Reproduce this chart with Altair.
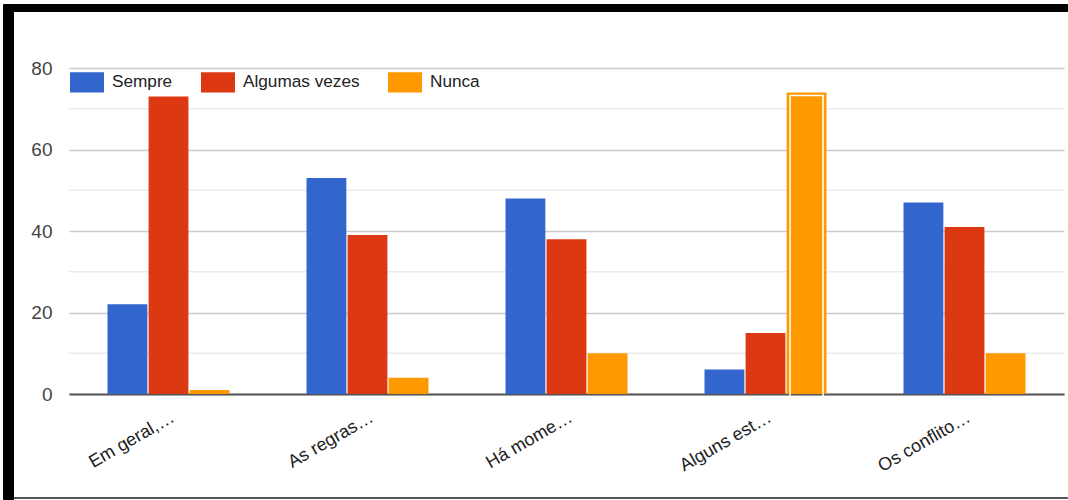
import altair as alt
import pandas as pd

# Survey answers per statement (counts)
categories = ["Em geral,…", "As regras…", "Há mome…", "Alguns est…", "Os conflito…"]
series = ["Sempre", "Algumas vezes", "Nunca"]
colors = ["#3366cc", "#dc3912", "#ff9900"]
sempre = [22, 53, 48, 6, 47]
algumas = [73, 39, 38, 15, 41]
nunca = [1, 4, 10, 74, 10]
y_ticks = [0, 20, 40, 60, 80]
minor_ticks = [10, 30, 50, 70]
highlighted = ("Alguns est…", "Nunca")

rows = []
for i, cat in enumerate(categories):
    for name, vals in zip(series, [sempre, algumas, nunca]):
        rows.append({"categoria": cat, "resposta": name, "valor": vals[i]})
df = pd.DataFrame(rows)

W, H = 995, 326
PAD_L, PAD_T = 69, 68

x_enc = alt.X(
    "categoria:N",
    sort=categories,
    scale=alt.Scale(paddingInner=0.387, paddingOuter=0.1935),
    axis=alt.Axis(
        title=None,
        labelAngle=-30,
        labelAlign="right",
        labelBaseline="top",
        labelPadding=14,
        labelFontSize=18,
        labelColor="#222222",
        labelFont="Liberation Sans",
        labelLimit=300,
        ticks=False,
        domainColor="#555555",
        domainWidth=2,
        grid=False,
    ),
)
xoff_enc = alt.XOffset("resposta:N", sort=series, scale=alt.Scale(paddingInner=0.03, paddingOuter=0))
y_scale = alt.Scale(domain=[0, 80], nice=False)

bars = alt.Chart(df).mark_bar().encode(
    x=x_enc,
    xOffset=xoff_enc,
    y=alt.Y(
        "valor:Q",
        scale=y_scale,
        axis=alt.Axis(
            title=None,
            values=y_ticks,
            labelFontSize=19,
            labelColor="#444444",
            labelFont="Liberation Sans",
            labelPadding=17,
            ticks=False,
            domain=False,
            gridColor="#cccccc",
            gridWidth=1.5,
        ),
    ),
    color=alt.Color(
        "resposta:N",
        sort=series,
        scale=alt.Scale(domain=series, range=colors),
        legend=alt.Legend(
            title=None,
            orient="none",
            direction="horizontal",
            legendX=1,
            legendY=-3,
            padding=0,
            symbolType="M-1,-0.6H1V0.6H-1Z",
            symbolSize=1156,
            symbolStrokeWidth=0,
            symbolOpacity=1,
            labelFontSize=17.2,
            labelFont="Liberation Sans",
            labelColor="#222222",
            labelOffset=8,
            columnPadding=28,
        ),
    ),
)

# Outline of the focused bar
focus = (
    alt.Chart(df)
    .transform_filter(
        (alt.datum.categoria == highlighted[0]) & (alt.datum.resposta == highlighted[1])
    )
    .mark_bar(filled=False, stroke="#ffffff", strokeWidth=1.5, size=33, yOffset=3, y2Offset=-3)
    .encode(x=x_enc, xOffset=xoff_enc, y=alt.Y("valor:Q", scale=y_scale))
)

minor = (
    alt.Chart(pd.DataFrame({"v": minor_ticks}))
    .mark_rule(color="#ebebeb", strokeWidth=1.5)
    .encode(y=alt.Y("v:Q", scale=y_scale))
)

frame_df = pd.DataFrame({"k": [0]})
frame_parts = [
    # top bar
    (7, 1068, 4, 12, "#000000"),
    # left bar
    (3, 14, 4, 500, "#000000"),
    # bottom line
    (14, 1068, 497, 499, "#555555"),
]
frames = []
for x0, x1, y0, y1, c in frame_parts:
    frames.append(
        alt.Chart(frame_df)
        .mark_rect(color=c, cornerRadius=1)
        .encode(
            x=alt.value(x0 - PAD_L),
            x2=alt.value(x1 - PAD_L),
            y=alt.value(y0 - PAD_T),
            y2=alt.value(y1 - PAD_T),
        )
    )

chart = (
    alt.layer(minor, bars, focus, *frames)
    .properties(
        width=W,
        height=H,
        autosize=alt.AutoSizeParams(type="none"),
        padding={"left": PAD_L, "top": PAD_T, "right": 4, "bottom": 106},
        background="#ffffff",
    )
    .configure_view(stroke=None)
)

chart.save("out.html", embed_options={"renderer": "svg", "actions": False})
